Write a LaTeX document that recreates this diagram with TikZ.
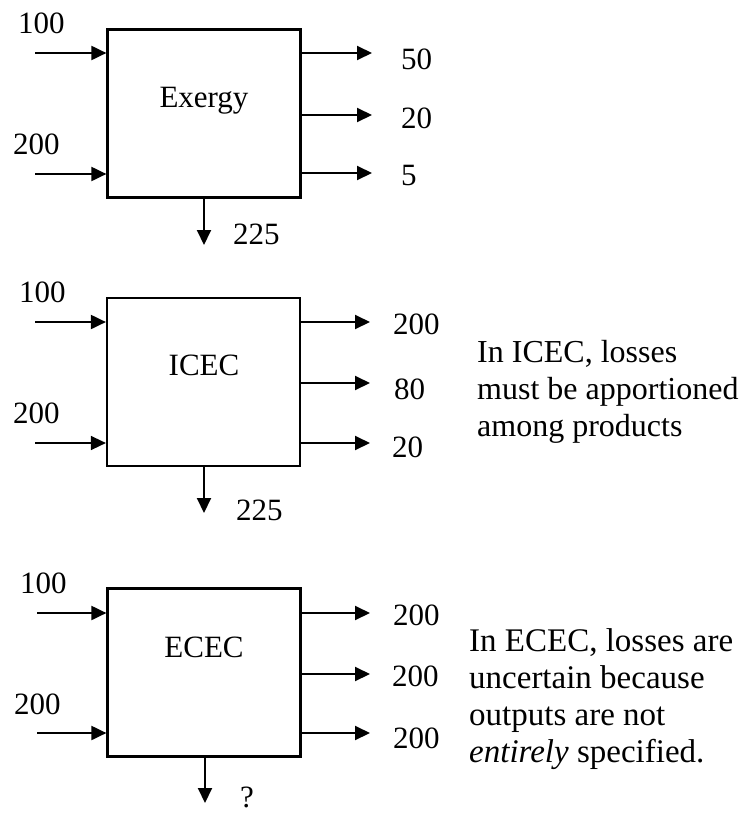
\documentclass[tikz,border=0pt]{standalone}
\usepackage{fontspec}
\setmainfont{Liberation Serif}
\usetikzlibrary{arrows.meta}
\begin{document}
\begin{tikzpicture}[x=1pt,y=-1pt,
  blk/.style={draw,line width=2.2pt,minimum width=193pt,minimum height=168pt,inner sep=0pt},
  flow/.style={line width=2pt,-{Triangle[length=15pt,width=14pt]}},
  num/.style={anchor=base west,inner sep=0pt,font=\fontsize{31}{37}\selectfont},
  title/.style={anchor=base,inner sep=0pt,font=\fontsize{31}{37}\selectfont},
  note/.style={anchor=base west,inner sep=0pt,align=left,font=\fontsize{32}{37}\selectfont}]
\useasboundingbox (0,0) rectangle (745,814);

% ---- Exergy balance ----
\node[blk] (b1) at (204,113.5) {};
\node[title] (t1) at (204,107) {Exergy};
\coordinate (i11) at (35,53);
\coordinate (i12) at (35,174);
\coordinate (o11) at (372,53);
\coordinate (o12) at (372,115);
\coordinate (o13) at (372,173);
\coordinate (d1) at (204,245);
\draw[flow] (i11) -- (i11 -| b1.west);
\draw[flow] (i12) -- (i12 -| b1.west);
\draw[flow] (o11 -| b1.east) -- (o11);
\draw[flow] (o12 -| b1.east) -- (o12);
\draw[flow] (o13 -| b1.east) -- (o13);
\draw[flow] (d1 |- b1.south) -- (d1);
\node[num] (n11) at (18,33) {100};
\node[num] (n12) at (13,154) {200};
\node[num] (n13) at (401,69) {50};
\node[num] (n14) at (401,128) {20};
\node[num] (n15) at (401,185) {5};
\node[num] (n16) at (233,244) {225};

% ---- ICEC balance ----
\node[blk] (b2) at (203.5,382) {};
\node[title] (t2) at (204,375) {ICEC};
\coordinate (i21) at (35,322);
\coordinate (i22) at (35,443);
\coordinate (o21) at (370,322);
\coordinate (o22) at (370,383);
\coordinate (o23) at (370,443);
\coordinate (d2) at (204,513);
\draw[flow] (i21) -- (i21 -| b2.west);
\draw[flow,line width=1.5pt] (i22) -- (i22 -| b2.west);
\draw[flow] (o21 -| b2.east) -- (o21);
\draw[flow] (o22 -| b2.east) -- (o22);
\draw[flow] (o23 -| b2.east) -- (o23);
\draw[flow] (d2 |- b2.south) -- (d2);
\node[num] (n21) at (19,302) {100};
\node[num] (n22) at (13,423) {200};
\node[num] (n23) at (393,334) {200};
\node[num] (n24) at (394,399) {80};
\node[num] (n25) at (392,457) {20};
\node[num] (n26) at (236,520) {225};
% baseline of the last line
\node[note] (c2) at (477,436) {In ICEC, losses\\must be apportioned\\among products};

% ---- ECEC balance ----
\node[blk] (b3) at (204,672.5) {};
\node[title] (t3) at (204,657) {ECEC};
\coordinate (i31) at (37,613);
\coordinate (i32) at (37,733);
\coordinate (o31) at (370,613);
\coordinate (o32) at (370,674);
\coordinate (o33) at (370,733);
\coordinate (d3) at (205,803);
\draw[flow] (i31) -- (i31 -| b3.west);
\draw[flow] (i32) -- (i32 -| b3.west);
\draw[flow] (o31 -| b3.east) -- (o31);
\draw[flow] (o32 -| b3.east) -- (o32);
\draw[flow] (o33 -| b3.east) -- (o33);
\draw[flow] (d3 |- b3.south) -- (d3);
\node[num] (n31) at (20,593) {100};
\node[num] (n32) at (14,714) {200};
\node[num] (n33) at (393,625) {200};
\node[num] (n34) at (392,686) {200};
\node[num] (n35) at (393,748) {200};
\node[num] (n36) at (240,807) {?};
% baseline of the last line
\node[note,font=\fontsize{33}{37}\selectfont] (c3) at (469,762) {In ECEC, losses are\\uncertain because\\outputs are not\\\textit{entirely} specified.};
\end{tikzpicture}
\end{document}
